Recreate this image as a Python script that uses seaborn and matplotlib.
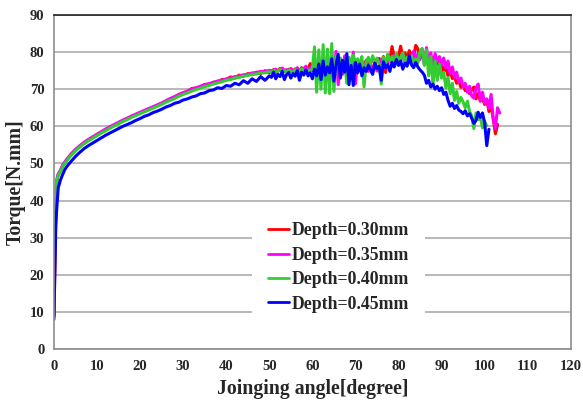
import numpy as np
import pandas as pd
import matplotlib
matplotlib.use("Agg")
import matplotlib.pyplot as plt
import seaborn as sns
from matplotlib.lines import Line2D

# ---------------- data ----------------
series_names = ["Depth=0.30mm", "Depth=0.35mm", "Depth=0.40mm", "Depth=0.45mm"]
series_colors = ["#FF0000", "#FF00FF", "#33CC33", "#0000FF"]

angle_head = [0, 0.2, 0.4, 0.6, 0.8, 1, 1.5, 2, 2.5, 3,
              4, 5, 6, 7, 8, 9, 10, 11, 12, 13, 14, 15, 16, 17, 18, 19, 20,
              21, 22, 23, 24, 25, 26, 27, 28, 29, 30, 31, 32, 33, 34, 35, 36,
              37, 38, 39, 40, 41, 42, 43, 44, 45, 46, 47, 48, 49, 50]
angle_tail = [50.5, 51, 51.5, 52, 52.5, 53, 53.5, 54, 54.5, 55,
              55.5, 56, 56.5, 57, 57.5, 58, 58.5, 59, 59.5, 60,
              60.5, 61, 61.5, 62, 62.5, 63, 63.5, 64, 64.5, 65,
              65.5, 66, 66.5, 67, 67.5, 68, 68.5, 69, 69.5, 70,
              70.5, 71, 71.5, 72, 72.5, 73, 73.5, 74, 74.5, 75,
              75.5, 76, 76.5, 77, 77.5, 78, 78.5, 79, 79.5, 80,
              80.5, 81, 81.5, 82, 82.5, 83, 83.5, 84, 84.5, 85,
              85.5, 86, 86.5, 87, 87.5, 88, 88.5, 89, 89.5, 90,
              90.5, 91, 91.5, 92, 92.5, 93, 93.5, 94, 94.5, 95,
              95.5, 96, 96.5, 97, 97.5, 98, 98.5, 99, 99.5, 100,
              100.5, 101, 101.5, 102, 102.5, 103, 103.5]

torque_030_head = [8.0, 24.0, 38.0, 44.5, 46.2, 47.0, 48.0, 49.3, 50.2, 51.0,
                   52.4, 53.6, 54.6, 55.5, 56.3, 57.0, 57.7, 58.4, 59.0, 59.7,
                   60.3, 60.9, 61.5, 62.0, 62.6, 63.1, 63.6, 64.1, 64.6, 65.1,
                   65.6, 66.2, 66.8, 67.4, 67.9, 68.6, 69.0, 69.4, 70.2, 70.3,
                   70.6, 71.3, 71.3, 71.9, 72.0, 72.6, 72.6, 73.3, 73.0, 73.8,
                   73.5, 74.2, 73.9, 74.6, 74.2, 75.0, 74.4]
torque_030_tail = [74.8, 75.3, 74.6, 75.0, 75.6, 74.9, 75.2, 74.7, 75.4, 75.1,
                   74.8, 75.5, 75.0, 74.6, 75.8, 75.2, 74.9, 75.4, 76.9, 75.0,
                   75.6, 74.8, 76.2, 75.3, 76.0, 75.1, 76.5, 75.4, 76.8, 75.6,
                   76.3, 75.5, 77.0, 75.8, 76.4, 75.9, 77.2, 76.0, 76.6, 76.2,
                   77.0, 76.1, 77.4, 76.5, 77.8, 76.7, 77.2, 78.0, 76.9, 77.6,
                   78.3, 77.2, 78.8, 74.5, 79.2, 78.0, 81.5, 78.6, 79.4, 78.9,
                   81.6, 78.5, 79.8, 78.2, 80.4, 79.0, 78.6, 81.8, 80.9, 78.4,
                   79.6, 77.8, 79.0, 78.2, 77.4, 78.6, 76.8, 77.9, 76.0, 76.8,
                   74.8, 75.9, 73.6, 74.8, 72.9, 73.2, 71.6, 72.4, 70.5, 71.3,
                   69.6, 70.4, 68.8, 69.8, 70.6, 67.4, 68.9, 66.8, 67.6, 65.9,
                   67.2, 64.0, 65.5, 62.0, 58.0, 60.5]

torque_035_head = [8.5, 26.0, 39.0, 45.0, 46.5, 47.2, 48.2, 49.5, 50.4, 51.2,
                   52.6, 53.8, 54.8, 55.7, 56.5, 57.2, 57.9, 58.6, 59.3, 59.9,
                   60.5, 61.1, 61.7, 62.2, 62.8, 63.3, 63.8, 64.3, 64.8, 65.3,
                   65.8, 66.3, 66.9, 67.5, 68.0, 68.5, 69.1, 69.5, 70.0, 70.4,
                   70.8, 71.2, 71.5, 71.8, 72.2, 72.4, 72.8, 73.0, 73.4, 73.5,
                   73.9, 74.0, 74.4, 74.5, 74.8, 74.7, 75.1]
torque_035_tail = [75.0, 74.6, 75.4, 74.8, 75.2, 75.7, 74.9, 75.3, 74.5, 75.6,
                   75.1, 74.7, 75.8, 75.0, 74.4, 75.5, 76.2, 74.8, 75.9, 75.2,
                   76.4, 74.6, 77.2, 73.8, 78.5, 72.6, 79.4, 73.0, 78.8, 75.2,
                   80.2, 71.2, 77.5, 74.0, 79.0, 72.5, 76.8, 73.8, 80.0, 71.4,
                   77.6, 75.2, 74.6, 76.8, 75.4, 74.8, 76.6, 75.5, 77.2, 74.9,
                   76.4, 78.0, 75.6, 77.5, 76.8, 78.4, 77.0, 79.2, 77.8, 78.6,
                   77.6, 79.4, 78.2, 77.0, 79.0, 78.4, 80.2, 77.8, 79.6, 78.0,
                   80.8, 76.6, 81.2, 77.0, 79.8, 76.2, 79.6, 77.4, 78.8, 76.4,
                   78.4, 75.8, 77.6, 74.2, 76.0, 73.2, 74.6, 71.8, 73.0, 70.6,
                   71.6, 69.2, 70.8, 68.2, 67.6, 70.4, 71.4, 66.8, 69.2, 66.2,
                   67.4, 64.8, 68.6, 62.0, 59.4, 65.0, 63.6]

torque_040_head = [9.5, 30.0, 40.0, 45.0, 46.0, 46.8, 47.8, 49.0, 50.0, 50.8,
                   52.2, 53.4, 54.4, 55.3, 56.1, 56.8, 57.5, 58.2, 58.8, 59.5,
                   60.1, 60.7, 61.3, 61.8, 62.4, 62.9, 63.4, 63.9, 64.4, 64.9,
                   65.4, 65.9, 66.5, 67.0, 67.5, 68.1, 68.6, 69.0, 69.5, 69.9,
                   70.3, 70.7, 71.0, 71.4, 71.7, 72.0, 72.4, 72.6, 73.0, 73.2,
                   73.5, 73.7, 74.0, 74.1, 74.4, 74.4, 74.7]
torque_040_tail = [74.6, 75.1, 74.4, 74.9, 75.3, 74.7, 75.0, 74.5, 75.2, 74.8,
                   74.6, 75.3, 74.9, 74.4, 75.5, 75.0, 74.7, 75.2, 74.9, 75.6,
                   81.4, 69.2, 80.6, 70.0, 82.0, 69.0, 80.8, 68.8, 82.3, 69.4,
                   79.0, 76.2, 78.4, 75.6, 77.8, 71.6, 78.6, 76.4, 79.2, 77.0,
                   78.2, 76.6, 78.8, 70.6, 77.4, 78.6, 76.8, 79.0, 77.2, 78.4,
                   76.8, 71.4, 78.6, 77.0, 79.4, 77.6, 78.8, 76.4, 79.6, 77.8,
                   78.4, 79.8, 76.6, 78.6, 77.2, 79.0, 76.8, 78.2, 77.0, 80.2,
                   81.0, 76.4, 80.6, 73.6, 78.8, 71.2, 77.6, 72.4, 76.8, 73.0,
                   74.6, 70.4, 73.2, 68.8, 71.6, 67.0, 69.4, 66.2, 67.8, 66.6,
                   65.0, 66.8, 64.0, 62.8, 59.4, 63.6, 61.8, 62.6, 59.6, 61.2,
                   60.2]

torque_045_head = [9.0, 20.0, 32.0, 37.0, 40.5, 43.5, 45.5, 47.0, 48.3, 49.2,
                   50.6, 51.9, 53.0, 54.0, 54.8, 55.5, 56.2, 56.9, 57.6, 58.2,
                   58.8, 59.4, 60.0, 60.5, 61.0, 61.6, 62.1, 62.7, 63.1, 63.7,
                   64.1, 64.6, 65.2, 65.6, 66.2, 66.5, 67.1, 67.4, 67.9, 68.2,
                   68.8, 69.0, 69.6, 69.8, 70.4, 70.2, 71.0, 70.8, 71.6, 71.2,
                   72.3, 71.6, 72.8, 72.1, 73.4, 72.4, 73.6]
torque_045_tail = [73.2, 74.6, 72.8, 74.0, 73.4, 74.8, 72.6, 73.9, 74.5, 73.0,
                   74.2, 73.5, 75.0, 72.4, 74.6, 73.8, 75.2, 73.6, 74.4, 72.8,
                   75.4, 73.6, 76.8, 72.6, 77.6, 73.8, 76.0, 74.4, 78.2, 72.2,
                   76.6, 79.4, 73.0, 77.8, 74.6, 79.6, 71.2, 76.4, 71.0, 77.2,
                   74.4, 76.8, 73.6, 75.8, 74.8, 76.4, 75.2, 74.0, 77.0, 75.6,
                   76.2, 72.4, 77.4, 75.8, 76.6, 74.8, 77.2, 76.0, 78.0, 76.4,
                   77.6, 75.4, 77.0, 76.2, 79.0, 76.6, 75.8, 77.2, 76.0, 75.2,
                   74.6, 73.8, 71.6, 72.4, 70.6, 71.4, 70.0, 70.8, 69.6, 70.4,
                   68.6, 69.2, 67.0, 65.4, 66.2, 64.8, 65.6, 64.4, 64.0, 63.4,
                   64.2, 62.8, 63.4, 62.2, 60.8, 61.6, 63.8, 62.4, 63.6, 61.0,
                   54.8, 59.2]

x_ticks = [0, 10, 20, 30, 40, 50, 60, 70, 80, 90, 100, 110, 120]
y_ticks = [0, 10, 20, 30, 40, 50, 60, 70, 80, 90]

# ---------------- build table ----------------
heads = [torque_030_head, torque_035_head, torque_040_head, torque_045_head]
tails = [torque_030_tail, torque_035_tail, torque_040_tail, torque_045_tail]
frames = []
for name, h, t in zip(series_names, heads, tails):
    ang = list(angle_head) + list(angle_tail[:len(t)])
    tq = list(h) + list(t)
    frames.append(pd.DataFrame({"angle": ang, "torque": tq, "series": name}))
df = pd.concat(frames, ignore_index=True)

# ---------------- style ----------------
sns.set_theme(style="white")
plt.rcParams["font.family"] = ["Liberation Serif", "DejaVu Serif"]
plt.rcParams["font.weight"] = "bold"

fig = plt.figure(figsize=(5.83, 4.0), dpi=100)
ax = fig.add_axes([0.0926, 0.1275, 0.8864, 0.835])

sns.lineplot(data=df, x="angle", y="torque", hue="series",
             palette=dict(zip(series_names, series_colors)),
             hue_order=series_names, estimator=None, sort=False,
             linewidth=2.2, ax=ax, legend=False)

ax.set_xlim(0, 120)
ax.set_ylim(0, 90)
ax.set_xticks(x_ticks)
ax.set_yticks(y_ticks)
ax.tick_params(axis="both", length=0, labelsize=10.5)
ax.tick_params(axis="x", pad=8)
ax.tick_params(axis="y", pad=7)
for lab in ax.get_xticklabels() + ax.get_yticklabels():
    lab.set_fontweight("bold")

ax.yaxis.grid(True, color="#b3b3b3", linewidth=1.3)
ax.xaxis.grid(False)
ax.set_axisbelow(True)

for side in ["left", "bottom", "right"]:
    ax.spines[side].set_color("#8c8c8c")
    ax.spines[side].set_linewidth(1.2)
ax.spines["top"].set_color("#222222")
ax.spines["top"].set_linewidth(1.2)

ax.set_xlabel("Joinging angle[degree]", fontsize=14.2, fontweight="bold", labelpad=4)
ax.set_ylabel("Torque[N.mm]", fontsize=14.2, fontweight="bold", labelpad=3)

handles = [Line2D([0], [0], color=c, lw=2.0) for c in series_colors]
leg = ax.legend(handles, series_names, loc="center",
                bbox_to_anchor=(0.551, 0.244), frameon=True, fancybox=False,
                facecolor="white", edgecolor="white", framealpha=1.0,
                prop={"family": "Liberation Serif", "weight": "bold", "size": 12.8},
                handlelength=1.15, handletextpad=0.15, labelspacing=0.42,
                borderpad=0.9)
leg.get_frame().set_linewidth(0)

fig.savefig("out.png", dpi=100)
